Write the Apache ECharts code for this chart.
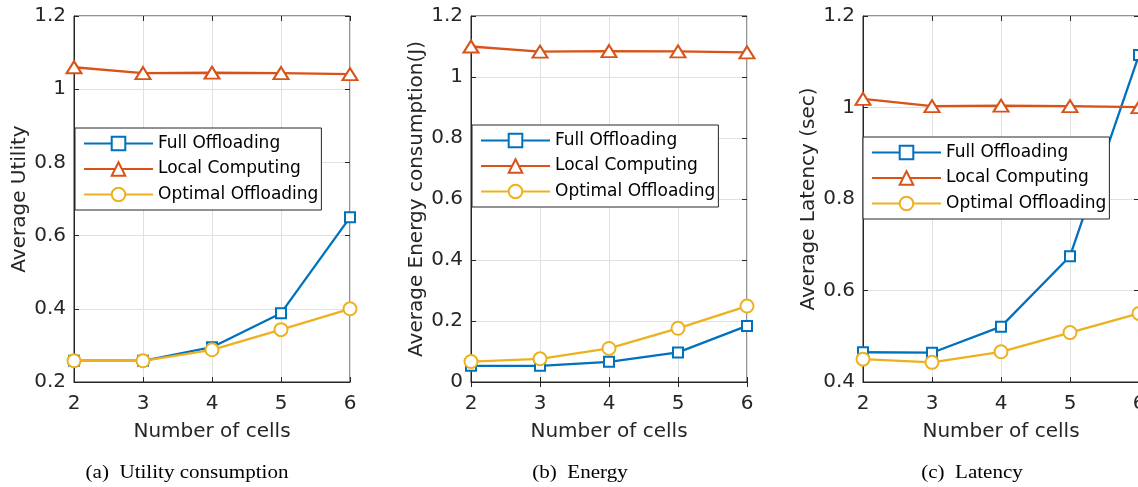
<!DOCTYPE html>
<html><head><meta charset="utf-8">
<script src="https://cdn.jsdelivr.net/npm/echarts@6/dist/echarts.min.js"></script>
<style>html,body{margin:0;padding:0;overflow:hidden;background:#fff;width:1138px;height:487px}#c{width:1175px;height:487px}</style>
</head><body><div id="c"></div><script>
// ---- data ----
const cells = ['2', '3', '4', '5', '6'];
const seriesNames = ['Full Offloading', 'Local Computing', 'Optimal Offloading'];

const utilFull  = [0.258, 0.258, 0.295, 0.388, 0.650];
const utilLocal = [1.060, 1.044, 1.045, 1.044, 1.041];
const utilOpt   = [0.258, 0.258, 0.288, 0.343, 0.400];

const energyFull  = [0.053, 0.053, 0.066, 0.097, 0.184];
const energyLocal = [1.100, 1.083, 1.085, 1.084, 1.081];
const energyOpt   = [0.067, 0.076, 0.110, 0.176, 0.249];

const latFull  = [0.465, 0.464, 0.521, 0.675, 1.115];
const latLocal = [1.019, 1.003, 1.004, 1.003, 1.001];
const latOpt   = [0.450, 0.443, 0.466, 0.508, 0.550];

const yNames = ['Average Utility', 'Average Energy consumption(J)', 'Average Latency (sec)'];
const xName = 'Number of cells';
const captions = ['(a)  Utility consumption', '(b)  Energy', '(c)  Latency'];
const yRanges = [[0.2, 1.2], [0, 1.2], [0.4, 1.2]];
const yStep = 0.2;

// ---- layout / style ----
const panelData = [[utilFull, utilLocal, utilOpt], [energyFull, energyLocal, energyOpt], [latFull, latLocal, latOpt]];
const layout = [
  {left: 74, nameGap: 43, legLeft: 75, legTop: 128, capX: 187},
  {left: 471, nameGap: 41, legLeft: 472, legTop: 125, capX: 580},
  {left: 863, nameGap: 43, legLeft: 863, legTop: 137, capX: 972}
];
const colors = ['#0072BD', '#D95319', '#EDB120'];
const symbols = ['emptyRect', 'emptyTriangle', 'emptyCircle'];
const symSizes = [10, [15, 12], 13];
const SANS = 'DejaVu Sans';
const AX = '#262626';
const LW = 2.3;
const fmt = v => String(parseFloat(Number(v).toFixed(1)));

const grid = [], xAxis = [], yAxis = [], series = [], legend = [], graphic = [];
layout.forEach((L, i) => {
  grid.push({left: L.left, top: 16, width: 276, height: 366, show: true, borderColor: AX, borderWidth: 1, backgroundColor: 'transparent'});
  xAxis.push({
    type: 'category', data: cells, gridIndex: i, boundaryGap: false, position: 'bottom',
    name: xName, nameLocation: 'middle', nameGap: 40,
    nameTextStyle: {fontFamily: SANS, fontSize: 20, color: AX},
    axisLine: {show: true, lineStyle: {color: AX, width: 1}},
    axisTick: {show: true, inside: true, length: 5, lineStyle: {color: AX}},
    axisLabel: {fontFamily: SANS, fontSize: 20, color: AX, margin: 12},
    splitLine: {show: true, lineStyle: {color: '#e0e0e0', width: 1}}
  });
  xAxis.push({
    type: 'category', data: cells, gridIndex: i, boundaryGap: false, position: 'top',
    axisLine: {show: false}, axisLabel: {show: false}, splitLine: {show: false},
    axisTick: {show: true, inside: true, length: 5, lineStyle: {color: AX}}
  });
  const [mn, mx] = yRanges[i];
  yAxis.push({
    type: 'value', gridIndex: i, min: mn, max: mx, interval: yStep, position: 'left',
    name: yNames[i], nameLocation: 'middle', nameGap: L.nameGap, nameRotate: 90,
    nameTextStyle: {fontFamily: SANS, fontSize: 20, color: AX},
    axisLine: {show: true, lineStyle: {color: AX, width: 1}},
    axisTick: {show: true, inside: true, length: 5, lineStyle: {color: AX}},
    axisLabel: {fontFamily: SANS, fontSize: 20, color: AX, margin: 8, formatter: fmt},
    splitLine: {show: true, lineStyle: {color: '#e0e0e0', width: 1}}
  });
  yAxis.push({
    type: 'value', gridIndex: i, min: mn, max: mx, interval: yStep, position: 'right',
    axisLine: {show: false}, axisLabel: {show: false}, splitLine: {show: false},
    axisTick: {show: true, inside: true, length: 5, lineStyle: {color: AX}}
  });
  panelData[i].forEach((vals, k) => {
    series.push({
      type: 'line', name: seriesNames[k], xAxisIndex: 2 * i, yAxisIndex: 2 * i,
      data: vals, symbol: symbols[k], symbolSize: symSizes[k], showSymbol: true,
      color: colors[k],
      lineStyle: {color: colors[k], width: LW},
      itemStyle: {color: colors[k], borderColor: colors[k], borderWidth: LW},
      emphasis: {disabled: true}, z: 3 + k
    });
  });
  legend.push({
    left: L.legLeft, top: L.legTop, orient: 'vertical', selectedMode: false,
    itemWidth: 69, itemHeight: 17, itemGap: 8.5, padding: [7, 3, 7, 8],
    borderColor: AX, borderWidth: 1, backgroundColor: '#fff', borderRadius: 0,
    textStyle: {fontFamily: SANS, fontSize: 17, color: '#000'},
    data: seriesNames, z: 10
  });
  graphic.push({
    type: 'text', x: L.capX, y: 473, scaleX: 1.17,
    style: {text: captions[i], font: '18px "Liberation Serif"', fill: '#000', textAlign: 'center', textVerticalAlign: 'middle'}
  });
});

const chart = echarts.init(document.getElementById('c'), null, {renderer: 'canvas'});
chart.setOption({animation: false, backgroundColor: '#fff', grid, xAxis, yAxis, series, legend, graphic, tooltip: {show: false}});
</script></body></html>
